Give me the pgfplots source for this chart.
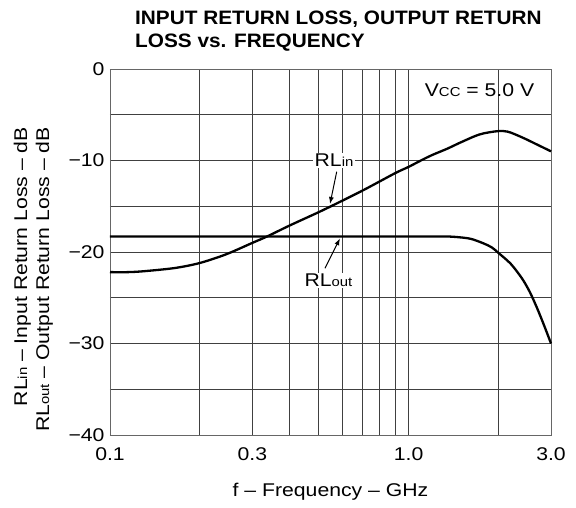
\documentclass[border=0pt]{standalone}
\usepackage{pgfplots}
\pgfplotsset{compat=1.18}
\usepackage{fontspec}
\setmainfont{Liberation Sans}
\newfontfamily\widefont{Liberation Sans}[FakeStretch=1.15]
\newfontfamily\titlefont{Liberation Sans}[FakeStretch=1.07]
\usetikzlibrary{arrows.meta}
\newcommand{\lbl}{\widefont\fontsize{18.5}{18.5}\selectfont}
\newcommand{\sub}[1]{{\fontsize{13}{13}\selectfont #1}}
\pgfplotstableread{
f db
0.1 -22.2
0.115 -22.2
0.13 -22.1
0.165 -21.75
0.2 -21.2
0.245 -20.25
0.3 -19.0
0.336 -18.3
0.4 -17.1
0.5 -15.65
0.55 -15.0
0.7 -13.3
0.9 -11.4
1.0 -10.7
1.1 -10.0
1.2 -9.4
1.35 -8.7
1.5 -8.0
1.73 -7.15
1.98 -6.8
2.15 -6.85
2.41 -7.5
2.71 -8.3
3.0 -9.0
}\rlin
\pgfplotstableread{
f db
0.1 -18.3
0.5 -18.3
1.0 -18.3
1.3 -18.3
1.43 -18.35
1.61 -18.55
1.78 -19.05
1.9 -19.5
2.0 -20.1
2.2 -21.3
2.4 -22.9
2.55 -24.4
2.7 -26.2
2.85 -28.1
3.0 -30.0
}\rlout
\begin{document}
\begin{tikzpicture}[x=1bp,y=1bp]
\path[use as bounding box] (0,0) rectangle (576,508);
\begin{axis}[
  at={(110bp,73bp)}, anchor=south west,
  scale only axis, width=441bp, height=366bp,
  xmode=log, xmin=0.1, xmax=3, ymin=-40, ymax=0,
  xtick={0.1,0.3,1,3}, xticklabels={0.1,0.3,1.0,3.0},
  minor xtick={0.2,0.4,0.5,0.6,0.7,0.8,0.9,2},
  ytick={-40,-30,-20,-10,0}, yticklabels={−40,−30,−20,−10,0},
  minor ytick={-35,-25,-15,-5},
  grid=both,
  major grid style={black!75, line width=0.8bp},
  minor grid style={black!75, line width=0.8bp},
  major tick length=0pt, minor tick length=0pt,
  axis line style={black!60, line width=0.9bp},
  ticklabel style={font=\lbl},
  xticklabel style={yshift=-9bp},
  yticklabel style={xshift=-2bp},
  clip=false,
]
\addplot[black, line width=2.3bp, smooth] table[x=f, y=db] {\rlin};
\addplot[black, line width=2.3bp, smooth] table[x=f, y=db] {\rlout};
\end{axis}
% title
\node[anchor=base west, font=\titlefont\bfseries\fontsize{19.5}{20}\selectfont, inner sep=0] at (135,483) {INPUT RETURN LOSS, OUTPUT RETURN};
\node[anchor=base west, font=\titlefont\bfseries\fontsize{19.5}{20}\selectfont, inner sep=0] at (135,460) {LOSS vs. FREQUENCY};
% axis labels
\node[anchor=base, font=\lbl, inner sep=0] at (330.5,11.3) {f – Frequency – GHz};
\node[anchor=base east, rotate=90, font=\lbl, inner sep=0] at (27,381) {RL\sub{in} – Input Return Loss – dB};
\node[anchor=base east, rotate=90, font=\lbl, inner sep=0] at (49,381) {RL\sub{out} – Output Return Loss – dB};
% annotations
\node[anchor=base, font=\lbl, inner sep=0] at (479.5,411) {V\sub{CC} = 5.0 V};
\draw[line width=1bp, -{Latex[length=7bp,width=5bp]}] (336.7,336.3) -- (330,304);
\draw[line width=1bp, -{Latex[length=7bp,width=5bp]}] (325,239.7) -- (340,269.7);
\node[anchor=base, font=\lbl, fill=white, inner sep=1.5bp] at (334,341.3) {RL\sub{in}};
\node[anchor=base, font=\lbl, fill=white, inner sep=1.5bp] at (328.4,221.3) {RL\sub{out}};
\end{tikzpicture}
\end{document}
